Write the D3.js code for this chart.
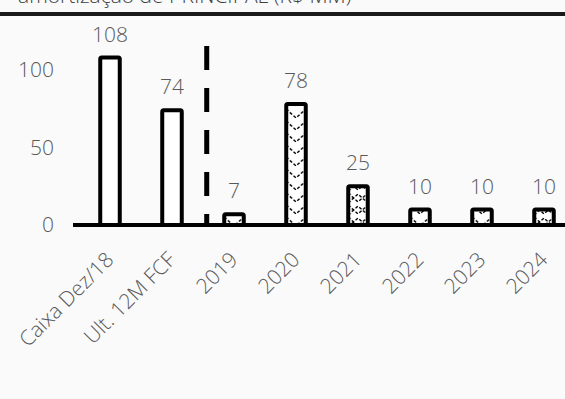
<!DOCTYPE html>
<html>
<head>
<meta charset="utf-8">
<script src="https://cdn.jsdelivr.net/npm/d3@7"></script>
<style>
  html, body { margin: 0; padding: 0; background: #fafafa; }
  svg { display: block; }
  text { font-family: "Open Sans", "Noto Sans", sans-serif; font-weight: 300; fill: #595959; }
</style>
</head>
<body>
<svg id="chart" width="565" height="399"></svg>
<script>
// Cash position vs. yearly principal amortization (R$ MM)
const categories = ["Caixa Dez/18", "Ult. 12M FCF", "2019", "2020", "2021", "2022", "2023", "2024"];
const values = [108, 74, 7, 78, 25, 10, 10, 10];
const hatchStyle = ["none", "none", "chevron", "chevron", "lattice", "chevron", "chevron", "lattice"];
const yTicks = [0, 50, 100];
const titleText = "amortização de PRINCIPAL (R$ MM)";

const W = 565, H = 399;
const FONT = "21px";
const svg = d3.select("#chart");
svg.append("rect").attr("width", W).attr("height", H).attr("fill", "#fafafa");

const x = d3.scaleBand().domain(categories).range([79, 575]).paddingInner(0.685).paddingOuter(0.3425);
const y = d3.scaleLinear().domain([0, 120]).range([225, 39]);
const bw = x.bandwidth();

// one hatch pattern per bar, aligned with the bar's left edge
const PH = 12;
const defs = svg.append("defs");
const pats = defs.selectAll("pattern").data(categories).join("pattern")
  .attr("id", (d, i) => "hatch" + i)
  .attr("patternUnits", "userSpaceOnUse")
  .attr("x", d => x(d)).attr("y", 0)
  .attr("width", bw).attr("height", PH);
pats.append("rect").attr("width", bw).attr("height", PH).attr("fill", "#ffffff");
pats.filter((d, i) => hatchStyle[i] !== "none").append("path")
  .attr("d", `M0,1 L${bw / 2},10 L${bw},1`)
  .attr("fill", "none").attr("stroke", "#000").attr("stroke-width", 1.4)
  .attr("stroke-dasharray", "3,2");
pats.filter((d, i) => hatchStyle[i] === "lattice").append("path")
  .attr("d", `M0,11 L${bw / 2},2 L${bw},11`)
  .attr("fill", "none").attr("stroke", "#000").attr("stroke-width", 1.4)
  .attr("stroke-dasharray", "3,2");

// title (running off the top edge) and the rule under it
svg.append("text")
  .attr("x", 18).attr("y", 3)
  .style("font-size", FONT).style("fill", "#404040")
  .text(titleText);
svg.append("line")
  .attr("x1", 0).attr("x2", W).attr("y1", 14).attr("y2", 14)
  .attr("stroke", "#1a1a1a").attr("stroke-width", 4);

// y axis labels
const yAxis = svg.append("g").attr("transform", "translate(54,0)")
  .call(d3.axisLeft(y).tickValues(yTicks).tickSize(0).tickPadding(0));
yAxis.select(".domain").remove();
yAxis.selectAll("text").style("font-size", FONT).style("fill", "#595959");

// bars
svg.append("g").selectAll("rect").data(values).join("rect")
  .attr("x", (d, i) => x(categories[i]))
  .attr("y", d => y(d))
  .attr("width", bw)
  .attr("height", d => y(0) - y(d))
  .attr("rx", 1.5)
  .attr("fill", (d, i) => `url(#hatch${i})`)
  .attr("stroke", "#000").attr("stroke-width", 4);

// value labels
svg.append("g").selectAll("text").data(values).join("text")
  .attr("x", (d, i) => x(categories[i]) + bw / 2)
  .attr("y", d => y(d) - 16)
  .attr("text-anchor", "middle")
  .style("font-size", FONT)
  .text(d => d);

// separator between cash and the amortization schedule
const sepX = x(categories[2]) + bw / 2 - x.step() * 0.44;
svg.append("line")
  .attr("x1", sepX).attr("x2", sepX)
  .attr("y1", 46).attr("y2", y(0))
  .attr("stroke", "#000").attr("stroke-width", 5)
  .attr("stroke-dasharray", "24,18");

// baseline
svg.append("line")
  .attr("x1", 73).attr("x2", W).attr("y1", y(0)).attr("y2", y(0))
  .attr("stroke", "#000").attr("stroke-width", 4);

// category labels, rotated
const xAxis = svg.append("g").attr("transform", `translate(0,${y(0)})`)
  .call(d3.axisBottom(x).tickSize(0).tickPadding(0));
xAxis.select(".domain").remove();
xAxis.selectAll("text")
  .style("font-size", FONT).style("fill", "#595959")
  .attr("text-anchor", "end")
  .attr("dy", "0")
  .attr("transform", "translate(5,36) rotate(-45)");
</script>
</body>
</html>
